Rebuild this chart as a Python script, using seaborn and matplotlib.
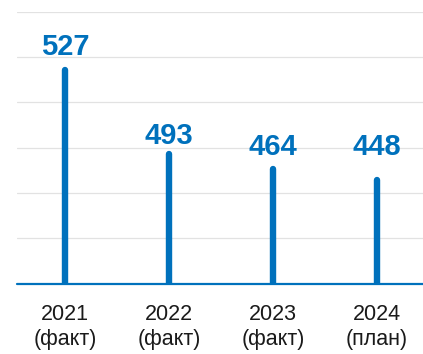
import matplotlib
matplotlib.use("Agg")
import matplotlib.pyplot as plt
import seaborn as sns
import pandas as pd

# data
years = ["2021", "2022", "2023", "2024"]
kinds = ["(факт)", "(факт)", "(факт)", "(план)"]
values = [527, 493, 464, 448]
# drawn bar heights, in gridline steps (the picture is not to scale)
bar_heights = [4.72, 2.86, 2.53, 2.29]

blue = "#0071BC"
label_gap_px = [12, 7, 11, 22]

sns.set_theme(style="white")
plt.rcParams["font.family"] = ["Liberation Sans", "DejaVu Sans"]

df = pd.DataFrame({"cat": [f"{y}\n{k}" for y, k in zip(years, kinds)],
                   "height": bar_heights})

fig = plt.figure(figsize=(4.23, 3.54), dpi=100)
ax = fig.add_axes([17 / 423, (354 - 283.5) / 354, 1 - 17 / 423, (283.5 - 11.7) / 354])

sns.barplot(data=df, x="cat", y="height", ax=ax, width=0.002, color=blue,
            saturation=1, edgecolor=blue, linewidth=4.6)
for p in ax.patches:
    p.set_joinstyle("round")
    p.set_capstyle("round")

ax.set_xlim(-0.466, 3.446)
ax.set_ylim(0, 6)
ax.set_yticks(range(1, 7))
ax.yaxis.grid(True, color="#e2e2e2", linewidth=0.9)
ax.set_axisbelow(True)
ax.axhline(0, color=blue, linewidth=1.6, zorder=5, clip_on=False)

for side in ["left", "right", "top", "bottom"]:
    ax.spines[side].set_visible(False)
ax.set_xlabel("")
ax.set_ylabel("")
ax.tick_params(axis="y", left=False, labelleft=False)
ax.tick_params(axis="x", bottom=False, pad=9, labelsize=15.5, labelcolor="#1a1a1a")

for i, (h, v) in enumerate(zip(bar_heights, values)):
    ax.annotate(str(v), (i, h), xytext=(0, (label_gap_px[i] + 2.5) * 0.72),
                textcoords="offset points", ha="center", va="baseline",
                fontsize=21, fontweight="bold", color=blue)

fig.savefig("out.png", dpi=100)
